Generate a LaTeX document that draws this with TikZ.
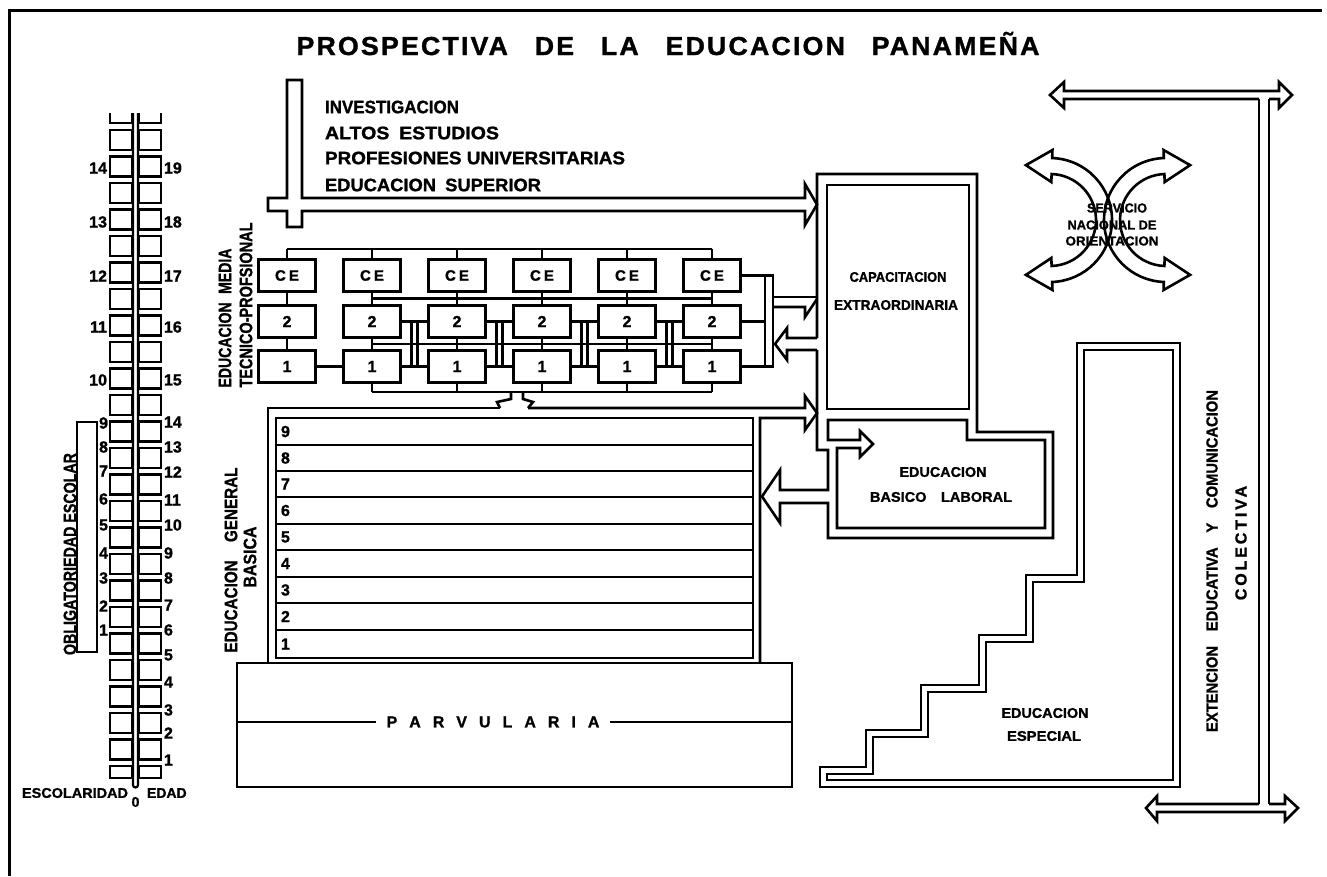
\documentclass[tikz,border=0pt]{standalone}
\usepackage{fontspec}
\setmainfont{Liberation Sans}[BoldFeatures={FakeBold=1.2}]
\usepackage{graphicx}
\usetikzlibrary{calc}
\newcommand\fz[1]{\fontsize{#1}{#1}\selectfont\bfseries}
\newcommand\fitw[2]{\resizebox{#1pt}{\height}{#2}}
\begin{document}
\begin{tikzpicture}[x=1pt,y=-1pt,
  ln/.style={line width=2.6pt, line join=miter},
  lnt/.style={line width=2.2pt, line join=miter},
  ladbox/.style={draw, line width=2.2pt, minimum width=22pt, minimum height=20pt, inner sep=0pt},
  gbox/.style={draw, line width=2.6pt, minimum width=57pt, minimum height=32pt, inner sep=0pt},
  txt/.style={inner sep=0pt, outer sep=0pt}]
\useasboundingbox (0,0) rectangle (1327,876);

% frame
\coordinate (fa) at (9,876); \coordinate (fb) at (9,10); \coordinate (fc) at (1322,10);
\draw[line width=3pt] (fa) -- (fb) -- (fc);

% title
\node[txt, anchor=base] (title) at (668,55) {\fz{26}\addfontfeature{LetterSpace=8}\fitw{743}{PROSPECTIVA\hspace{1em}DE\hspace{1em}LA\hspace{1em}EDUCACION\hspace{1em}PANAMEÑA}};

% ---------------- ladder ----------------
\coordinate (cl1) at (133,113); \coordinate (cl2) at (138,113);
\draw[lnt] (cl1) -- (133,785) arc[start angle=180, end angle=0, radius=2.5] -- (cl2);
\draw[lnt] (110,113) -- (110,123) -- (132,123) -- (132,113);
\draw[lnt] (139,113) -- (139,123) -- (161,123) -- (161,113);
\foreach \k in {0,...,23} {
  \node[ladbox] (la\k) at (121,140+26.5*\k) {};
  \node[ladbox] (lb\k) at (150,140+26.5*\k) {};
}
\node[ladbox, minimum height=12pt] (la24) at (121,772) {};
\node[ladbox, minimum height=12pt] (lb24) at (150,772) {};
\foreach \n/\y in {14/168,13/222,12/276,11/327,10/380}
  \node[txt, anchor=east] (llu\n) at (107,\y) {\fz{16}\n};
\foreach \n/\y in {9/423,8/447,7/471,6/499,5/525,4/553,3/578,2/606,1/630}
  \node[txt, anchor=east] (lll\n) at (108,\y) {\fz{16}\n};
\foreach \n/\y in {19/168,18/222,17/276,16/327,15/380,14/422,13/447,12/472,11/500,10/525,9/553,8/578,7/605,6/630,5/655,4/682,3/710,2/733,1/760}
  \node[txt, anchor=west] (lr\n) at (164,\y) {\fz{16}\n};
\node[draw, lnt, minimum width=20pt, minimum height=230pt, inner sep=0pt] (oblbox) at (87,537) {};
\node[txt, rotate=90] (obl) at (70,554) {\fz{18}\fitw{202}{OBLIGATORIEDAD ESCOLAR}};
\node[txt, anchor=west] (esc) at (22,793) {\fz{14}\fitw{106}{ESCOLARIDAD}};
\node[txt, anchor=west] (edad) at (147,793) {\fz{14}EDAD};
\node[txt] (zero) at (135.5,802) {\fz{14}0};

% ---------------- superior ----------------
\draw[ln] (287,80) -- (302,80) -- (302,198) -- (805,198) -- (805,184) -- (817,204.5) -- (805,225) -- (805,211) -- (302,211) -- (302,227) -- (287,227) -- (287,211) -- (268,211) -- (268,198) -- (287,198) -- cycle;
\node[txt, anchor=west] (t1) at (325,107) {\fz{18}\fitw{134}{INVESTIGACION}};
\node[txt, anchor=west] (t2) at (325,133) {\fz{18}\fitw{174}{ALTOS\hspace{0.5em}ESTUDIOS}};
\node[txt, anchor=west] (t3) at (325,158) {\fz{18}\fitw{300}{PROFESIONES UNIVERSITARIAS}};
\node[txt, anchor=west] (t4) at (325,185) {\fz{18}\fitw{216}{EDUCACION\hspace{0.5em}SUPERIOR}};

% ---------------- media ----------------
\foreach \c/\x in {1/287,2/372,3/457,4/542,5/627,6/712} {
  \node[gbox] (ce\c) at (\x,275.5) {\fz{15}C\kern3pt E};
  \node[gbox] (two\c) at (\x,321.5) {\fz{16}2};
  \node[gbox] (one\c) at (\x,366.5) {\fz{16}1};
  \draw[ln] (ce\c) -- (two\c);
  \draw[ln] (two\c) -- (one\c);
}
\coordinate (tb) at (0,249);
\draw[ln] (ce1.north |- tb) -- (ce6.north |- tb);
\foreach \c in {1,...,6} \draw[ln] (ce\c.north) -- (ce\c.north |- tb);
\coordinate (hA) at (0,298.5); \coordinate (hB) at (0,344);
\draw[ln] (two2.north |- hA) -- (two6.north |- hA);
\draw[ln] (one2.north |- hB) -- (one6.north |- hB);
\foreach \c/\d in {2/3,3/4,4/5,5/6} {
  \draw[ln] (two\c.east) -- (two\d.west);
  \draw[ln] (one\c.east) -- (one\d.west);
  \coordinate (mid\c) at ($(two\c.east)!0.5!(two\d.west)$);
  \coordinate (va\c) at ($(mid\c)+(-3,0)$);
  \coordinate (vb\c) at ($(mid\c)+(3,0)$);
  \draw[ln] (va\c) -- (va\c |- one\c.east);
  \draw[ln] (vb\c) -- (vb\c |- one\c.east);
}
\draw[ln] (one1.east) -- (one2.west);
\coordinate (bb) at (0,392);
\draw[ln] (one2.south |- bb) -- (one6.south |- bb);
\foreach \c in {2,...,6} \draw[ln] (one\c.south) -- (one\c.south |- bb);
\node[draw, ln, minimum width=8pt, minimum height=91pt, inner sep=0pt] (bar) at (769,321) {};
\draw[ln] (ce6.east) -- (ce6.east -| bar.west);
\draw[ln] (two6.east) -- (two6.east -| bar.west);
\draw[ln] (one6.east) -- (one6.east -| bar.west);
\draw[ln] (773,297) -- (817,297);
\draw[ln] (773,307) -- (805,307) -- (805,317) -- (817,299);
\draw[ln] (817,338) -- (787,338) -- (787,328) -- (775,344) -- (787,360) -- (787,350) -- (817,350);
\node[txt, rotate=90] (em1) at (225,318) {\fz{18}\fitw{139}{EDUCACION\hspace{0.6em}MEDIA}};
\node[txt, rotate=90] (em2) at (246,305) {\fz{18}\fitw{165}{TECNICO-PROFSIONAL}};

% ---------------- capacitacion / basico laboral ----------------
\draw[ln] (817,338) -- (817,174) -- (977,174) -- (977,432) -- (1053,432) -- (1053,538) -- (828,538) -- (828,503) -- (780,503) -- (780,523) -- (762,496.5) -- (780,470) -- (780,490) -- (828,490) -- (828,450) -- (817,450) -- (817,350);
\node[draw, ln, minimum width=142pt, minimum height=224pt, inner sep=0pt] (cap) at (898,297) {};
\node[txt] (capt1) at (898,277) {\fz{14}\fitw{97}{CAPACITACION}};
\node[txt] (capt2) at (896,305) {\fz{14}\fitw{124}{EXTRAORDINARIA}};
\draw[ln] (828,420) -- (967,420) -- (967,440) -- (1045,440) -- (1045,528) -- (837,528) -- (837,448) -- (860,448) -- (860,457) -- (873,444) -- (860,431) -- (860,440) -- (828,440) -- cycle;
\node[txt] (blt1) at (943,472) {\fz{14}\fitw{87}{EDUCACION}};
\node[txt] (blt2) at (941,497) {\fz{14}\fitw{142}{BASICO\hspace{1em}LABORAL}};

% ---------------- EGB ----------------
\draw[ln] (500,408) -- (268,408) -- (268,663);
\draw[ln] (528,408) -- (805,408) -- (805,396) -- (817,413) -- (805,430) -- (805,418) -- (760,418) -- (760,663);
\draw[ln] (511,392) -- (511,399) -- (497,402) -- (500,408);
\draw[ln] (523,392) -- (523,399) -- (533,402) -- (528,408);
\node[draw, ln, minimum width=477pt, minimum height=240pt, inner sep=0pt] (egb) at (514.5,538) {};
\foreach \y in {445,471,497,524,550,577,603,630} {
  \coordinate (sy) at (0,\y);
  \draw[ln] (egb.west |- sy) -- (egb.east |- sy);
}
\foreach \n/\y in {9/431.5,8/458,7/484,6/510.5,5/537,4/563.5,3/590,2/616.5,1/644}
  \node[txt, anchor=west] (eg\n) at (281,\y) {\fz{16}\n};
\node[txt, rotate=90] (egt1) at (231,560) {\fz{18}\fitw{185}{EDUCACION\hspace{1.2em}GENERAL}};
\node[txt, rotate=90] (egt2) at (250,557) {\fz{18}\fitw{61}{BASICA}};

% ---------------- parvularia ----------------
\node[draw, lnt, minimum width=555pt, minimum height=124pt, inner sep=0pt] (parv) at (514.5,725) {};
\coordinate (pm) at (0,722);
\draw[lnt] (parv.west |- pm) -- (parv.east |- pm);
\node[txt, fill=white, inner xsep=11pt, inner ysep=2pt] (parvt) at (493,722) {\fz{16}P\hspace{12pt}A\hspace{12pt}R\hspace{12pt}V\hspace{12pt}U\hspace{12pt}L\hspace{12pt}A\hspace{12pt}R\hspace{12pt}I\hspace{12pt}A};

% ---------------- servicio nacional de orientacion ----------------
\coordinate (xl) at (1050,220);
\coordinate (xr) at (1166,220);
\draw[ln] ($(xl)+(-88:62)$) arc[start angle=-88, end angle=88, radius=62]
  -- ($(xl)+(88:70)$) -- ($(xl)+(88:54)+(-26,0.9)$) -- ($(xl)+(88:38)$) -- ($(xl)+(88:46)$)
  arc[start angle=88, end angle=-88, radius=46]
  -- ($(xl)+(-88:38)$) -- ($(xl)+(-88:54)+(-26,-0.9)$) -- ($(xl)+(-88:70)$) -- cycle;
\draw[ln] ($(xr)+(268:62)$) arc[start angle=268, end angle=92, radius=62]
  -- ($(xr)+(92:70)$) -- ($(xr)+(92:54)+(26,0.9)$) -- ($(xr)+(92:38)$) -- ($(xr)+(92:46)$)
  arc[start angle=92, end angle=268, radius=46]
  -- ($(xr)+(268:38)$) -- ($(xr)+(268:54)+(26,-0.9)$) -- ($(xr)+(268:70)$) -- cycle;
\node[txt] (sv1) at (1117,208) {\fz{13}\fitw{60}{SERVICIO}};
\node[txt] (sv2) at (1112,225) {\fz{13}\fitw{89}{NACIONAL DE}};
\node[txt] (sv3) at (1112,241) {\fz{13}\fitw{93}{ORIENTACION}};

% ---------------- educacion especial ----------------
\draw[ln] (1077,343) -- (1180,343) -- (1180,787) -- (820,787) -- (820,767) -- (866,767) -- (866,730) -- (921,730) -- (921,685) -- (979,685) -- (979,635) -- (1026,635) -- (1026,575) -- (1077,575) -- cycle;
\draw[ln] (1084,350) -- (1173,350) -- (1173,780) -- (827,780) -- (827,774) -- (873,774) -- (873,737) -- (928,737) -- (928,692) -- (986,692) -- (986,642) -- (1033,642) -- (1033,582) -- (1084,582) -- cycle;
\node[txt] (esp1) at (1045,713) {\fz{14}\fitw{87}{EDUCACION}};
\node[txt] (esp2) at (1044,736) {\fz{14}\fitw{74}{ESPECIAL}};

% ---------------- extension ----------------
\draw[ln] (1259,99) -- (1064,99) -- (1064,108) -- (1050,95) -- (1064,82) -- (1064,91) -- (1279,91) -- (1279,82) -- (1292,95) -- (1279,108) -- (1279,99) -- (1269,99);
\draw[ln] (1259,99) -- (1259,804);
\draw[ln] (1269,99) -- (1269,804);
\draw[ln] (1259,804) -- (1157,804) -- (1157,796) -- (1146,808) -- (1157,821) -- (1157,812) -- (1285,812) -- (1285,821) -- (1298,808) -- (1285,796) -- (1285,804) -- (1269,804);
\node[txt, rotate=90] (ext1) at (1212,561) {\fz{16}\fitw{342}{EXTENCION\hspace{1em}EDUCATIVA\hspace{1em}Y\hspace{1em}COMUNICACION}};
\node[txt, rotate=90] (ext2) at (1241,543) {\fz{16}\addfontfeature{LetterSpace=18}COLECTIVA};
\end{tikzpicture}
\end{document}
